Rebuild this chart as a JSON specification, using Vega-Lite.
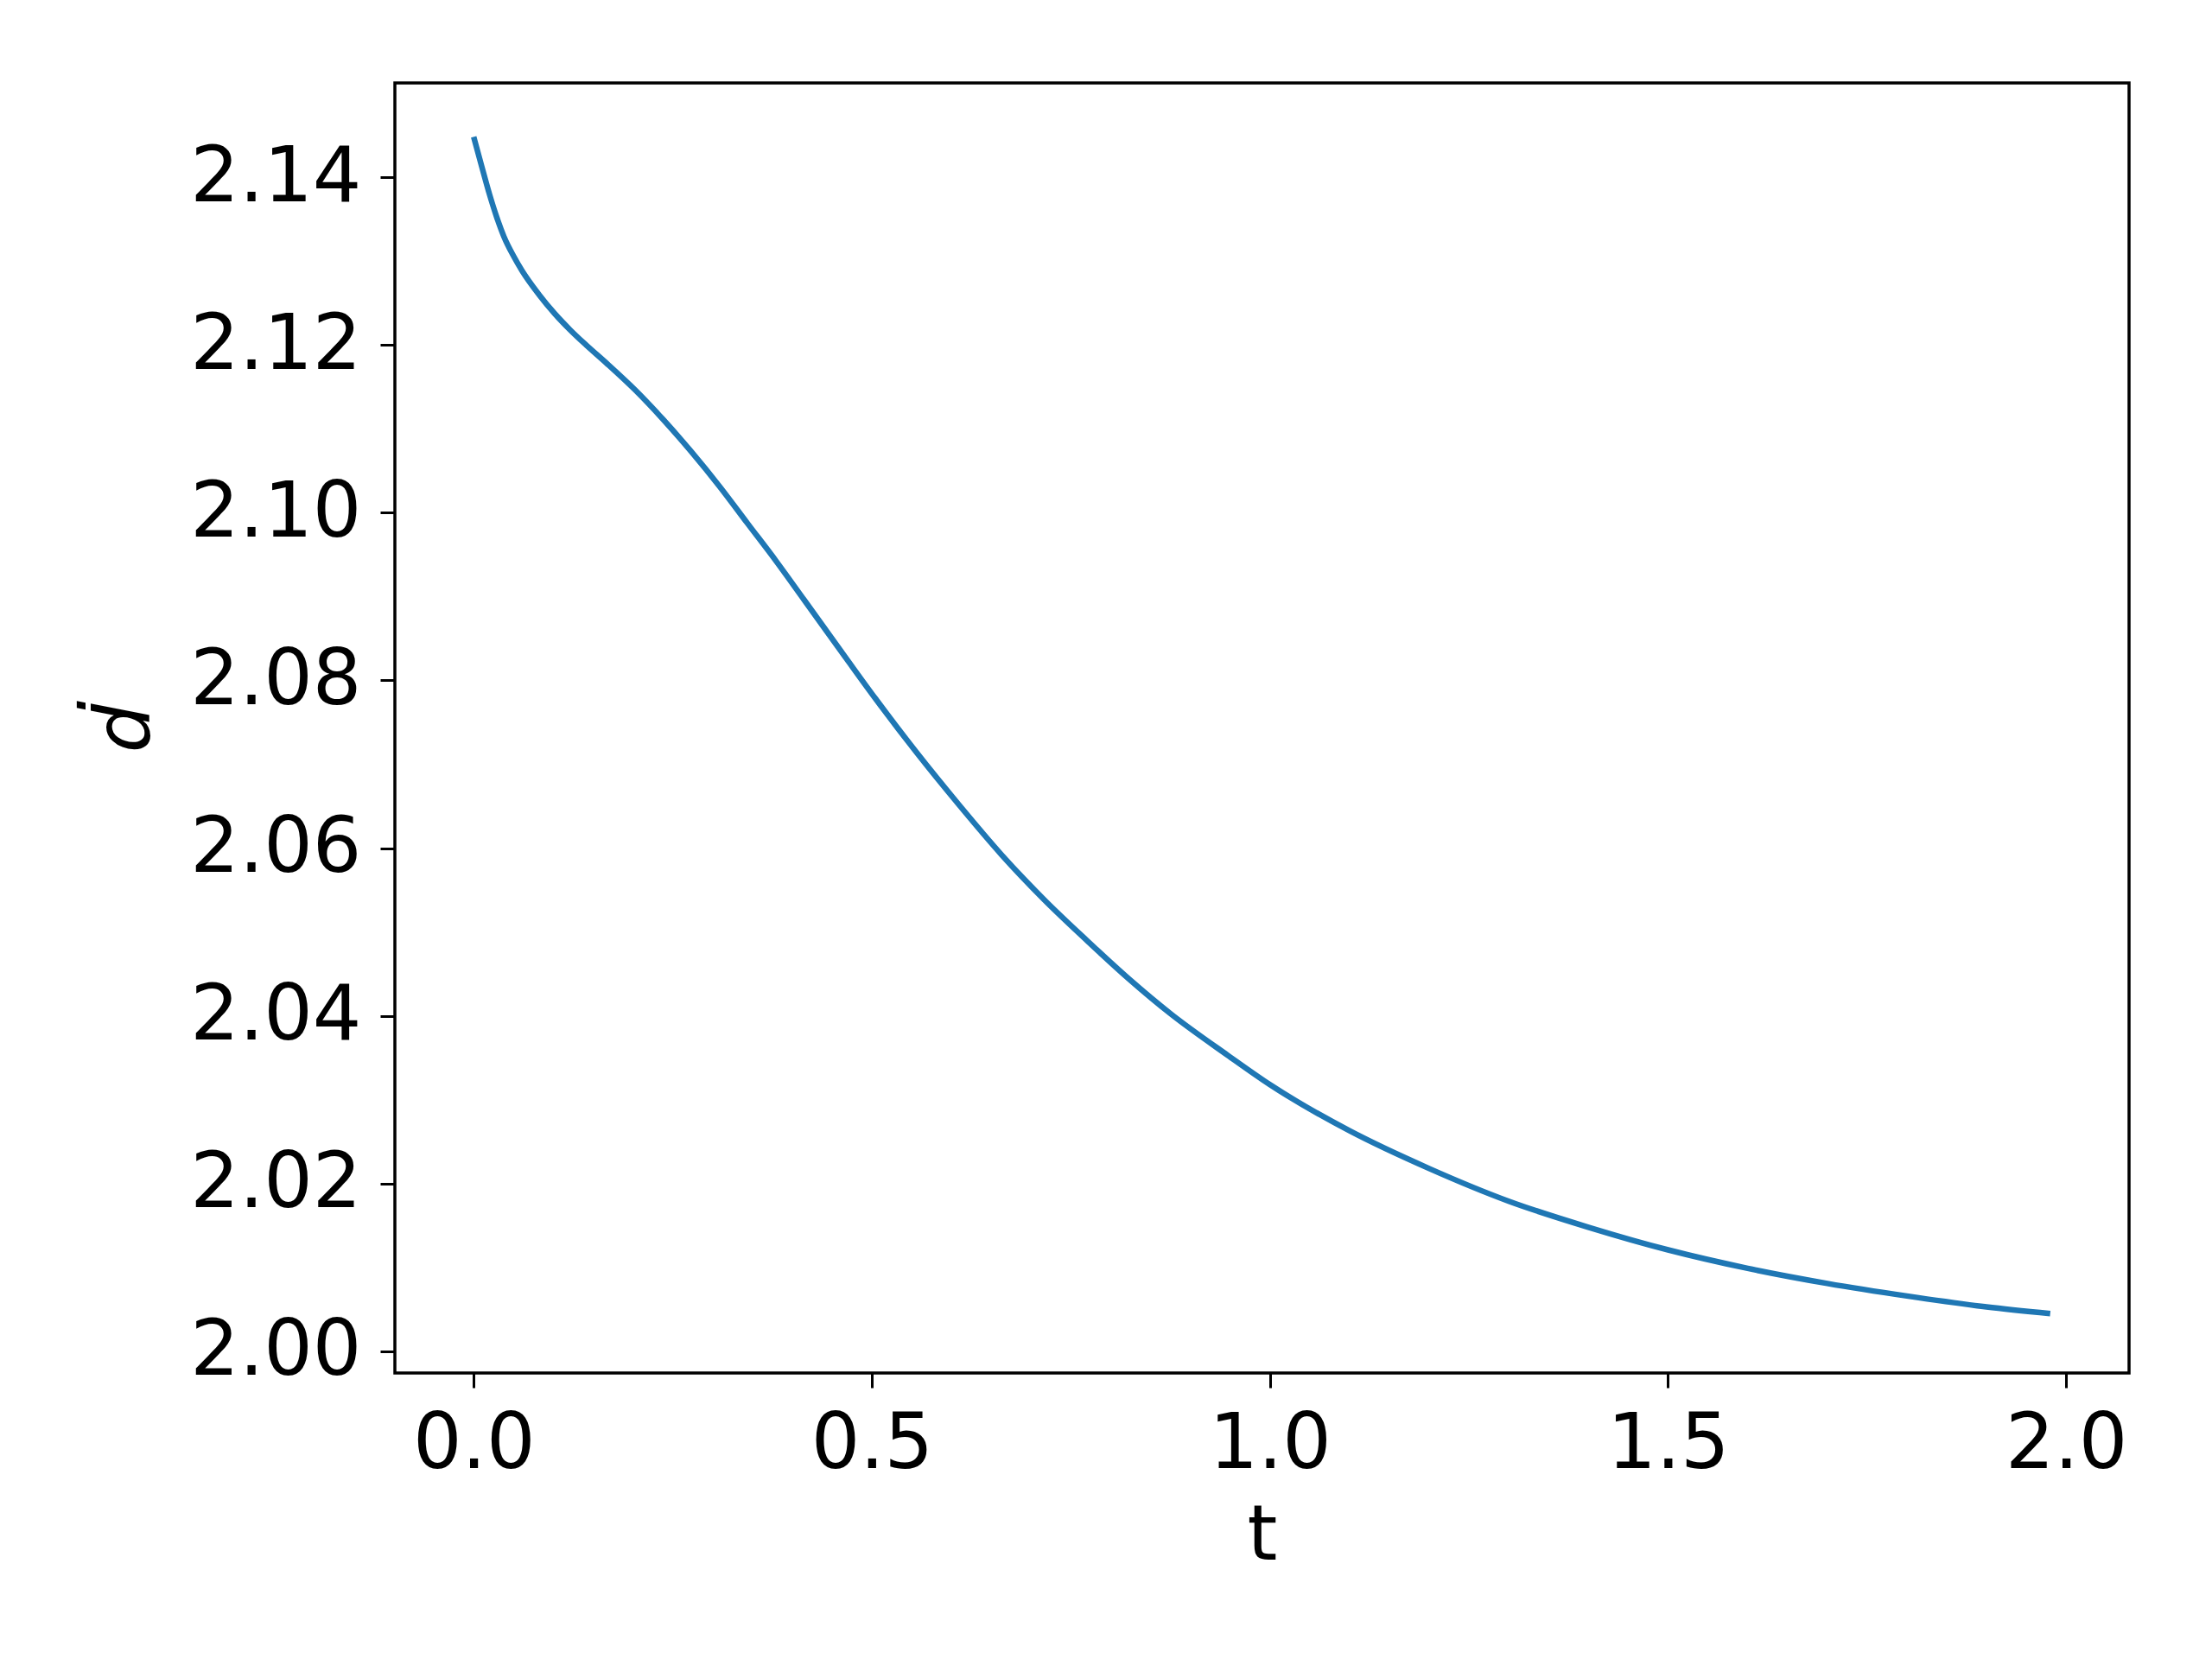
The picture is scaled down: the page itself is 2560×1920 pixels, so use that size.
{
  "$schema": "https://vega.github.io/schema/vega-lite/v6.json",
  "width": 2007,
  "height": 1493,
  "autosize": {"type": "none"},
  "padding": {"left": 457, "top": 96, "right": 96, "bottom": 331},
  "background": "white",
  "config": {
    "view": {"stroke": "black", "strokeWidth": 3.5},
    "axis": {
      "grid": false,
      "domain": false,
      "tickColor": "black",
      "tickWidth": 3,
      "tickSize": 17,
      "labelFont": "DejaVu Sans",
      "labelFontSize": 89,
      "labelColor": "black",
      "labelPadding": 22,
      "labelLimit": 0,
      "titleFont": "DejaVu Sans",
      "titleFontSize": 89,
      "titleFontWeight": "normal",
      "titleColor": "black"
    }
  },
  "data": {
    "values": [
      {"t": 0.000, "d": 2.1448},
      {"t": 0.010, "d": 2.1413},
      {"t": 0.020, "d": 2.1379},
      {"t": 0.029, "d": 2.1352},
      {"t": 0.038, "d": 2.1329},
      {"t": 0.050, "d": 2.1306},
      {"t": 0.061, "d": 2.1288},
      {"t": 0.082, "d": 2.1260},
      {"t": 0.102, "d": 2.1237},
      {"t": 0.121, "d": 2.1218},
      {"t": 0.141, "d": 2.1200},
      {"t": 0.167, "d": 2.1178},
      {"t": 0.203, "d": 2.1146},
      {"t": 0.238, "d": 2.1111},
      {"t": 0.273, "d": 2.1073},
      {"t": 0.309, "d": 2.1031},
      {"t": 0.344, "d": 2.0987},
      {"t": 0.380, "d": 2.0942},
      {"t": 0.415, "d": 2.0896},
      {"t": 0.468, "d": 2.0826},
      {"t": 0.504, "d": 2.0779},
      {"t": 0.557, "d": 2.0713},
      {"t": 0.610, "d": 2.0651},
      {"t": 0.663, "d": 2.0592},
      {"t": 0.717, "d": 2.0538},
      {"t": 0.770, "d": 2.0490},
      {"t": 0.823, "d": 2.0444},
      {"t": 0.876, "d": 2.0402},
      {"t": 0.947, "d": 2.0353},
      {"t": 1.000, "d": 2.0318},
      {"t": 1.100, "d": 2.0263},
      {"t": 1.200, "d": 2.0218},
      {"t": 1.300, "d": 2.0179},
      {"t": 1.400, "d": 2.0148},
      {"t": 1.500, "d": 2.0121},
      {"t": 1.600, "d": 2.0099},
      {"t": 1.700, "d": 2.0081},
      {"t": 1.800, "d": 2.0066},
      {"t": 1.900, "d": 2.0053},
      {"t": 1.980, "d": 2.0045}
    ]
  },
  "mark": {"type": "line", "color": "#1f77b4", "strokeWidth": 6.5, "interpolate": "monotone"},
  "encoding": {
    "x": {
      "field": "t",
      "type": "quantitative",
      "scale": {"domain": [-0.099, 2.079], "nice": false, "zero": false},
      "axis": {"title": "t", "values": [0, 0.5, 1, 1.5, 2], "format": ".1f", "titlePadding": 18}
    },
    "y": {
      "field": "d",
      "type": "quantitative",
      "scale": {"domain": [1.99742, 2.15123], "nice": false, "zero": false},
      "axis": {
        "title": "ḋ",
        "titleFontStyle": "italic",
        "values": [2.0, 2.02, 2.04, 2.06, 2.08, 2.1, 2.12, 2.14],
        "format": ".2f",
        "titlePadding": 66
      }
    }
  }
}
